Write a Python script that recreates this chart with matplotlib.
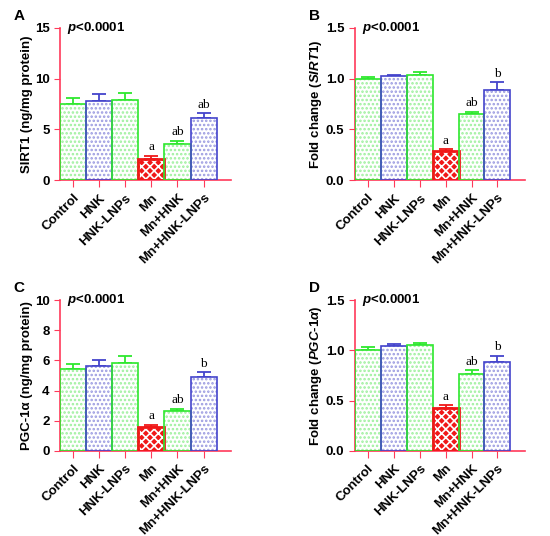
import numpy as np
import matplotlib
matplotlib.use('Agg')
import matplotlib.pyplot as plt

plt.rcParams['font.family'] = ['Liberation Sans', 'DejaVu Sans']
plt.rcParams['font.weight'] = 'bold'
plt.rcParams['mathtext.fontset'] = 'custom'
plt.rcParams['mathtext.it'] = 'Liberation Sans:italic:bold'
plt.rcParams['mathtext.rm'] = 'Liberation Sans:bold'
plt.rcParams['hatch.linewidth'] = 1.2

groups = ['Control', 'HNK', 'HNK-LNPs', 'Mn', 'Mn+HNK', 'Mn+HNK-LNPs']

# valores (media e erro)
sirt1_prot = [7.45, 7.8, 7.9, 2.12, 3.6, 6.15]
sirt1_prot_err = [0.65, 0.65, 0.72, 0.28, 0.3, 0.42]
sirt1_fold = [1.0, 1.022, 1.033, 0.29, 0.65, 0.89]
sirt1_fold_err = [0.02, 0.018, 0.03, 0.012, 0.025, 0.075]
pgc_prot = [5.45, 5.65, 5.85, 1.6, 2.62, 4.87]
pgc_prot_err = [0.32, 0.35, 0.42, 0.14, 0.18, 0.33]
pgc_fold = [1.0, 1.04, 1.053, 0.426, 0.76, 0.888]
pgc_fold_err = [0.03, 0.02, 0.025, 0.025, 0.04, 0.06]

sirt1_prot_sig = ['', '', '', 'a', 'ab', 'ab']
sirt1_fold_sig = ['', '', '', 'a', 'ab', 'b']
pgc_prot_sig = ['', '', '', 'a', 'ab', 'b']
pgc_fold_sig = ['', '', '', 'a', 'ab', 'b']

green = '#2ee82e'
green_dot = '#9cf09c'
blue = '#4444cc'
blue_dot = '#9a9ae0'
red = '#f01818'
axis_col = '#ff3a5a'

edge_cols = [green, blue, green, red, green, blue]
dot_cols = [green_dot, blue_dot, green_dot, 'white', green_dot, blue_dot]


def painel(ax, vals, errs, sig, ymax, yticks, ylabel, letra):
    x = np.arange(len(groups))
    for i in range(len(groups)):
        if i == 3:
            ax.bar(x[i], vals[i], width=1.0, color=red, edgecolor='white',
                   hatch='xxxx', linewidth=0, zorder=2)
        else:
            ax.bar(x[i], vals[i], width=1.0, color='white', edgecolor=dot_cols[i],
                   hatch='....', linewidth=0, zorder=2)
        lw = 2.0 if i == 3 else 1.2
        ax.bar(x[i], vals[i], width=1.0, color='none', edgecolor=edge_cols[i],
               linewidth=lw, zorder=3)
        ax.errorbar(x[i], vals[i], yerr=[[0], [errs[i]]], fmt='none',
                    ecolor=edge_cols[i], elinewidth=1.3, capsize=5, capthick=1.3,
                    zorder=1)
        if sig[i]:
            ax.text(x[i], vals[i] + errs[i] + ymax * 0.015, sig[i], ha='center',
                    va='bottom', fontsize=9.5, family='Liberation Serif',
                    fontweight='normal')
    ax.set_xlim(-0.5, 6.05)
    ax.set_ylim(0, ymax)
    ax.set_yticks(yticks)
    ax.set_xticks(x)
    ax.set_xticklabels(groups, rotation=45, ha='right', rotation_mode='anchor',
                       fontsize=9.5, fontweight='bold')
    ax.tick_params(axis='y', colors=axis_col, labelcolor='black', length=4,
                   labelsize=9.5)
    ax.tick_params(axis='x', colors=axis_col, labelcolor='black', length=5)
    for lab in ax.get_yticklabels():
        lab.set_fontweight('bold')
    ax.spines['top'].set_visible(False)
    ax.spines['right'].set_visible(False)
    ax.spines['left'].set_color(axis_col)
    ax.spines['bottom'].set_color(axis_col)
    ax.spines['left'].set_linewidth(1.2)
    ax.spines['bottom'].set_linewidth(1.2)
    ax.set_ylabel(ylabel, fontsize=9.5, fontweight='bold', labelpad=1.5)
    ax.text(0.04, 1.0, r'$\mathit{p}$<0.0001', transform=ax.transAxes,
            fontsize=9.5, fontweight='bold', va='center', ha='left')
    ax.text(-0.27, 1.08, letra, transform=ax.transAxes, fontsize=11,
            fontweight='bold', va='center', ha='left')


fig = plt.figure(figsize=(5.5, 5.36), dpi=100)
axA = fig.add_axes([0.109, 0.664, 0.311, 0.284])
axB = fig.add_axes([0.645, 0.664, 0.309, 0.284])
axC = fig.add_axes([0.109, 0.159, 0.311, 0.281])
axD = fig.add_axes([0.645, 0.159, 0.309, 0.281])

painel(axA, sirt1_prot, sirt1_prot_err, sirt1_prot_sig, 15, [0, 5, 10, 15],
       'SIRT1 (ng/mg protein)', 'A')
painel(axB, sirt1_fold, sirt1_fold_err, sirt1_fold_sig, 1.5, [0.0, 0.5, 1.0, 1.5],
       r'Fold change ($\mathit{SIRT1}$)', 'B')
painel(axC, pgc_prot, pgc_prot_err, pgc_prot_sig, 10, [0, 2, 4, 6, 8, 10],
       'PGC-1α (ng/mg protein)', 'C')
painel(axD, pgc_fold, pgc_fold_err, pgc_fold_sig, 1.5, [0.0, 0.5, 1.0, 1.5],
       r'Fold change ($\mathit{PGC}$-$\mathit{1\alpha}$)', 'D')

axB.set_yticklabels(['0.0', '0.5', '1.0', '1.5'])
axD.set_yticklabels(['0.0', '0.5', '1.0', '1.5'])

fig.savefig('out.png', dpi=100)
